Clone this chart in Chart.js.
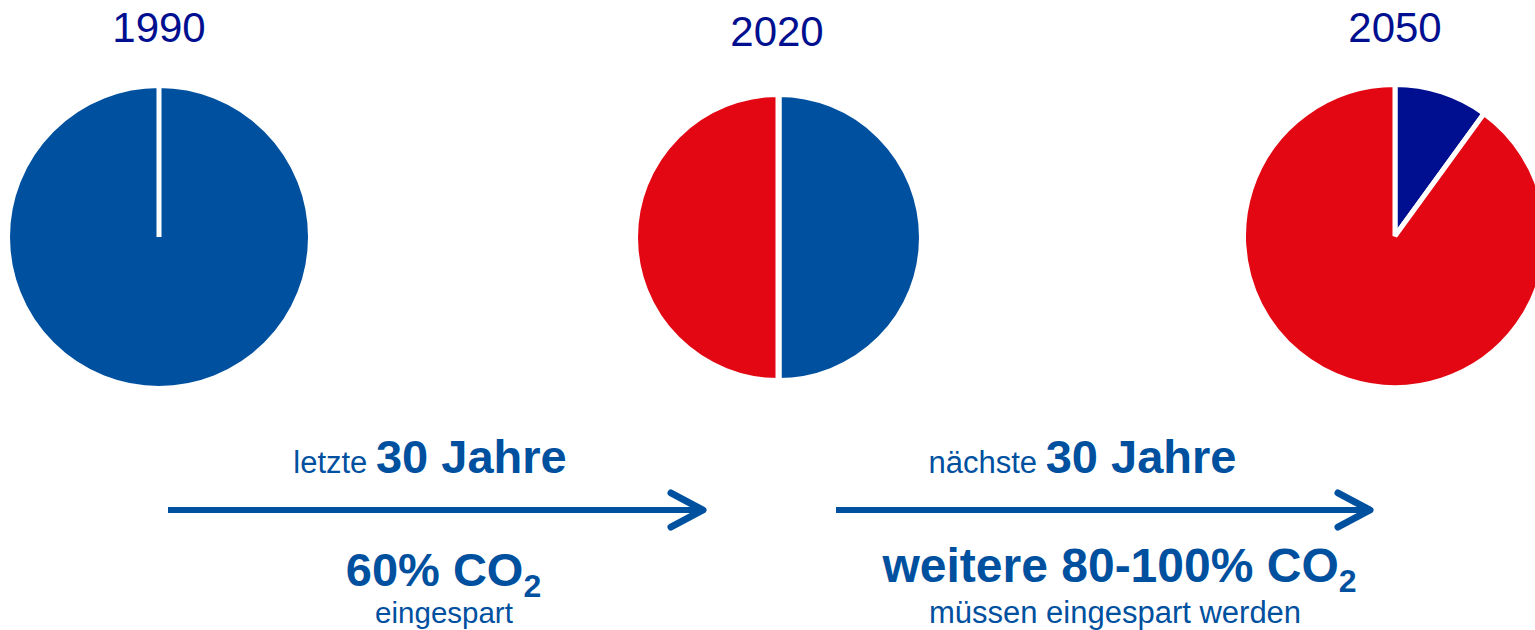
<!DOCTYPE html>
<html lang="de">
<head>
<meta charset="utf-8">
<script src="https://cdn.jsdelivr.net/npm/chart.js@4/dist/chart.umd.min.js"></script>
<style>
    html, body { margin: 0; padding: 0; background: #fff; }
    body { width: 1535px; height: 630px; position: relative; overflow: hidden; font-family: "Liberation Sans", Arial, sans-serif; color: #0050a0; }
    canvas { position: absolute; }
    .lbl { position: absolute; white-space: nowrap; transform: translateX(-50%); line-height: 1; }
    .year { font-size: 42px; color: #000f8f; }
    .small { font-size: 31px; font-weight: normal; line-height: 0; }
    .big { font-size: 47px; font-weight: bold; }
    .sub { font-size: 32px; line-height: 0; }
    svg { position: absolute; left: 0; top: 0; }
</style>
</head>
<body>
<canvas id="pie1990"></canvas>
<canvas id="pie2020"></canvas>
<canvas id="pie2050"></canvas>

<div class="lbl year" style="left:159px; top:7.4px;">1990</div>
<div class="lbl year" style="left:777px; top:11.4px;">2020</div>
<div class="lbl year" style="left:1395px; top:7.4px;">2050</div>

<div class="lbl big" style="left:430px; top:433.2px;"><span class="small">letzte </span>30 Jahre</div>
<div class="lbl big" style="left:1082.5px; top:433.2px;"><span class="small">nächste </span>30 Jahre</div>

<div class="lbl big" style="left:443.5px; top:546.2px;">60% CO<span class="sub" style="vertical-align:-11px">2</span></div>
<div class="lbl" style="left:444px; top:598px; font-size:29.5px;">eingespart</div>

<div class="lbl big" style="left:1119.5px; top:542.4px; font-size:48px;">weitere 80-100% CO<span class="sub" style="vertical-align:-10px">2</span></div>
<div class="lbl" style="left:1115px; top:596.8px; font-size:31px;">müssen eingespart werden</div>

<svg width="1535" height="630">
    <g stroke="#0050a0" fill="none" stroke-linecap="round" stroke-linejoin="round">
        <line x1="168" y1="510" x2="700" y2="510" stroke-width="6" stroke-linecap="butt"/>
        <polyline points="671,493 703,510 671,527" stroke-width="7"/>
        <line x1="836" y1="510" x2="1367" y2="510" stroke-width="6" stroke-linecap="butt"/>
        <polyline points="1338,493 1370,510 1338,527" stroke-width="7"/>
    </g>
</svg>

<script>
// Anteil der CO2-Emissionen (Basis 1990 = 100 %)
const jahre = ['1990', '2020', '2050'];
const emittiert = [100, 50, 10];
const eingespart = [0, 50, 90];

const blau = ['#0050a0', '#0050a0', '#000f8f'];
const rot = '#e30613';

// sichtbarer Radius, Mittelpunkt und weiße Trennlinie je Jahr
const kreise = [
    { cx: 158.5, cy: 237, r: 149, rand: 5 },
    { cx: 778.5, cy: 237.5, r: 140.5, rand: 6 },
    { cx: 1395, cy: 236, r: 149, rand: 5 }
];

jahre.forEach(function(jahr, i) {
    const k = kreise[i];
    const groesse = Math.round(2 * (k.r + k.rand));
    const canvas = document.getElementById('pie' + jahr);
    canvas.width = groesse;
    canvas.height = groesse;
    canvas.style.left = (k.cx - groesse / 2) + 'px';
    canvas.style.top = (k.cy - groesse / 2) + 'px';

    new Chart(canvas.getContext('2d'), {
        type: 'pie',
        data: {
            labels: ['emittiert', 'eingespart'],
            datasets: [{
                data: [emittiert[i], eingespart[i]],
                backgroundColor: [blau[i], rot],
                borderColor: '#ffffff',
                borderWidth: k.rand
            }]
        },
        options: {
            responsive: false,
            animation: false,
            layout: { padding: 0 },
            plugins: {
                legend: { display: false },
                tooltip: { enabled: false }
            }
        }
    });
});
</script>
</body>
</html>
